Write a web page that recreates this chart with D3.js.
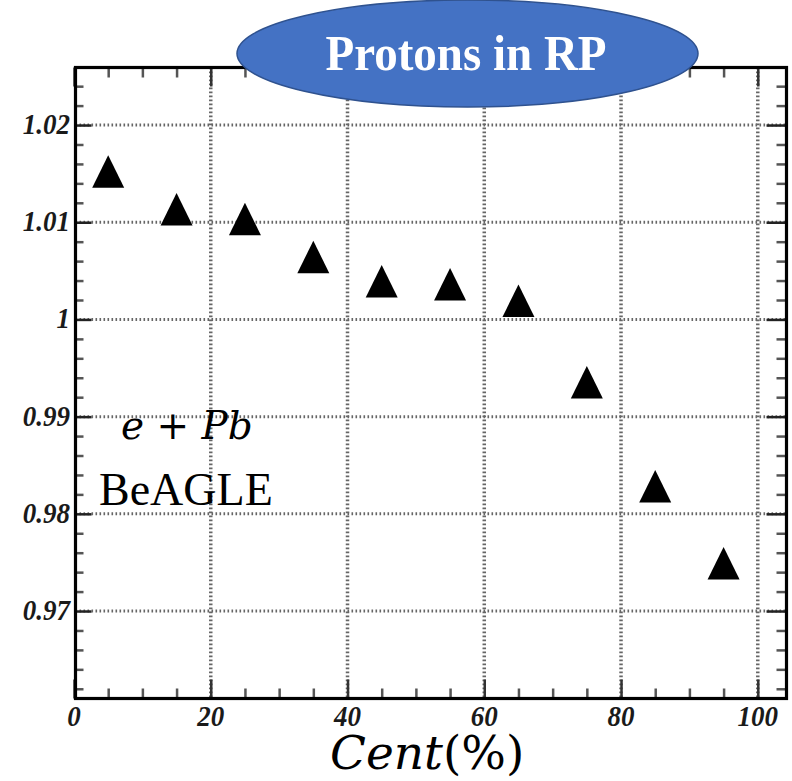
<!DOCTYPE html>
<html>
<head>
<meta charset="utf-8">
<script src="https://cdn.jsdelivr.net/npm/d3@7"></script>
<style>
  html, body { margin: 0; padding: 0; background: #fff; }
  svg { display: block; }
</style>
</head>
<body>
<svg id="chart" width="792" height="781"></svg>
<script>
// ---- data ----
const cent = [5, 15, 25, 35, 45, 55, 65, 75, 85, 95];
const ratio = [1.0152, 1.0113, 1.0103, 1.0064, 1.0039, 1.0036, 1.0019, 0.9935, 0.9828, 0.9749];
const xTickValues = [0, 20, 40, 60, 80, 100];
const xTickLabels = ["0", "20", "40", "60", "80", "100"];
const yTickValues = [0.97, 0.98, 0.99, 1.00, 1.01, 1.02];
const yTickLabels = ["0.97", "0.98", "0.99", "1", "1.01", "1.02"];
const titleText = "Protons in RP";
const systemText = ["e", " + ", "Pb"];
const generatorText = "BeAGLE";

// ---- layout ----
const svg = d3.select("#chart");
const L = 75.5, R = 786.5, T = 67.5, B = 698.5;
const x = d3.scaleLinear().domain([0, 104.2]).range([74, 786.5]);
const y = d3.scaleLinear().domain([0.9610, 1.02592]).range([B, T]);

const xMinor = d3.range(0, 105, 5).filter(v => v % 20 !== 0);
const yMinor = d3.range(962, 1026, 2).map(v => v / 1000).filter(v => Math.round(v * 1000) % 10 !== 0);

// grid
const grid = svg.append("g").attr("class", "grid");
grid.selectAll("line.gx").data(xTickValues.filter(v => v > 0)).join("line")
  .attr("class", "gx")
  .attr("x1", d => x(d)).attr("x2", d => x(d))
  .attr("y1", T).attr("y2", B)
  .attr("stroke", "#666").attr("stroke-width", 3.5).attr("stroke-dasharray", "1.8,2.2");
grid.selectAll("line.gy").data(yTickValues).join("line")
  .attr("class", "gy")
  .attr("x1", L).attr("x2", R)
  .attr("y1", d => y(d)).attr("y2", d => y(d))
  .attr("stroke", "#666").attr("stroke-width", 3).attr("stroke-dasharray", "1.6,2.4");

// ticks via d3 axes
function styleAxis(g, col, w) {
  g.select(".domain").remove();
  g.selectAll(".tick text").remove();
  g.selectAll(".tick line").attr("stroke", col).attr("stroke-width", w);
}
const tickCol = "#555";
// bottom
svg.append("g").attr("transform", `translate(0,${B})`)
  .call(d3.axisBottom(x).tickValues(xMinor).tickSize(-10)).call(g => styleAxis(g, tickCol, 2.5));
svg.append("g").attr("transform", `translate(0,${B})`)
  .call(d3.axisBottom(x).tickValues(xTickValues).tickSize(-19)).call(g => styleAxis(g, "#333", 2.5));
// top
svg.append("g").attr("transform", `translate(0,${T})`)
  .call(d3.axisTop(x).tickValues(xMinor).tickSize(-10)).call(g => styleAxis(g, tickCol, 2.5));
svg.append("g").attr("transform", `translate(0,${T})`)
  .call(d3.axisTop(x).tickValues(xTickValues).tickSize(-19)).call(g => styleAxis(g, "#333", 2.5));
// left
svg.append("g").attr("transform", `translate(${L},0)`)
  .call(d3.axisLeft(y).tickValues(yMinor).tickSize(-8)).call(g => styleAxis(g, tickCol, 2.5));
svg.append("g").attr("transform", `translate(${L},0)`)
  .call(d3.axisLeft(y).tickValues(yTickValues).tickSize(-16)).call(g => styleAxis(g, "#222", 2.5));
// right
svg.append("g").attr("transform", `translate(${R},0)`)
  .call(d3.axisRight(y).tickValues(yMinor).tickSize(-10)).call(g => styleAxis(g, tickCol, 2.5));
svg.append("g").attr("transform", `translate(${R},0)`)
  .call(d3.axisRight(y).tickValues(yTickValues).tickSize(-20)).call(g => styleAxis(g, "#222", 2.5));

// frame
svg.append("rect").attr("x", L).attr("y", T).attr("width", R - L).attr("height", B - T)
  .attr("fill", "none").attr("stroke", "#000").attr("stroke-width", 3.2);

// tick labels
const labFont = "'Liberation Serif', 'Times New Roman', serif";
svg.append("g").selectAll("text").data(yTickValues).join("text")
  .attr("transform", d => `translate(70,${y(d) + 9}) scale(1,1.1)`)
  .attr("text-anchor", "end")
  .attr("font-family", labFont).attr("font-weight", "bold").attr("font-style", "italic")
  .attr("font-size", 27).attr("fill", "#1a1a1a")
  .text((d, i) => yTickLabels[i]);
svg.append("g").selectAll("text").data(xTickValues).join("text")
  .attr("transform", d => `translate(${x(d)},${726}) scale(1,1.08)`)
  .attr("text-anchor", "middle")
  .attr("font-family", labFont).attr("font-weight", "bold").attr("font-style", "italic")
  .attr("font-size", 27).attr("fill", "#1a1a1a")
  .text((d, i) => xTickLabels[i]);

// markers
svg.append("g").selectAll("path").data(cent).join("path")
  .attr("transform", (d, i) => `translate(${x(d)},${y(ratio[i])})`)
  .attr("d", "M0,-16.5L16,16L-16,16Z")
  .attr("fill", "#000");

// annotations
const sys = svg.append("text")
  .attr("x", 121).attr("y", 439)
  .attr("font-family", "'DejaVu Serif', serif").attr("font-size", 39).attr("fill", "#000");
sys.append("tspan").attr("font-style", "italic").text(systemText[0]);
sys.append("tspan").text(systemText[1]);
sys.append("tspan").attr("font-style", "italic").text(systemText[2]);

svg.append("text")
  .attr("x", 99).attr("y", 505)
  .attr("font-family", labFont).attr("font-size", 46).attr("fill", "#000")
  .text(generatorText);

// x-axis title
const xt = svg.append("text")
  .attr("x", 330).attr("y", 769)
  .attr("font-family", "'DejaVu Serif', serif").attr("font-size", 47).attr("fill", "#000");
xt.append("tspan").attr("font-style", "italic").text("Cent");
xt.append("tspan").text("(%)");

// title ellipse
svg.append("ellipse")
  .attr("cx", 467.5).attr("cy", 53.5).attr("rx", 230.5).attr("ry", 53.5)
  .attr("fill", "#4472C4").attr("stroke", "#2F528F").attr("stroke-width", 1.5);
svg.append("text")
  .attr("transform", "translate(466,70) scale(1,1.1)")
  .attr("text-anchor", "middle")
  .attr("font-family", labFont).attr("font-weight", "bold").attr("font-size", 47)
  .attr("fill", "#fff")
  .text(titleText);
</script>
</body>
</html>
